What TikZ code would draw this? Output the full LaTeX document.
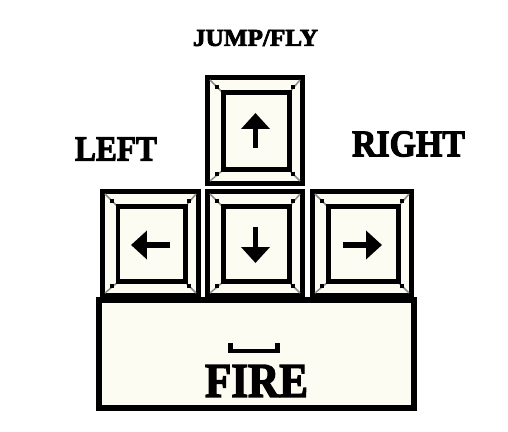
\documentclass[tikz,border=0pt]{standalone}
\usepackage{fontspec}
\setmainfont{Liberation Serif}
\newfontfamily\stencilfont[BoldFont={Liberation Serif Bold},BoldFeatures={FakeBold=3}]{Liberation Serif}
\usetikzlibrary{arrows.meta}
\definecolor{keycream}{RGB}{252,252,242}
\newcommand{\stencilword}[3]{\resizebox{#1}{#2}{\stencilfont\bfseries #3}}

\begin{document}
\begin{tikzpicture}[x=0.02cm,y=-0.02cm,line width=0.1cm,
  >={Triangle[width=0.56cm,length=0.32cm]},
  keyframe/.style={draw=black,fill=keycream,line width=0.1cm},
  innerframe/.style={draw=black,line width=0.1cm},
  bevel/.style={draw=black!45,line width=0.03cm},
  keyarrow/.style={->,line width=0.11cm},
  caption/.style={inner sep=0pt,anchor=center}]
\useasboundingbox (0,0) rectangle (508,432);
% ---------- fire bar ----------
\draw[keyframe,line width=0.12cm] (99,300) rectangle (414,408);
\draw[line width=0.09cm,line join=miter] (230.5,343) -- (230.5,351) -- (277.5,351) -- (277.5,343);
\node[caption] (fire) at (256.5,381) {\stencilword{2.06cm}{0.64cm}{FIRE}};
% ---------- keys: up, left, down, right ----------
\foreach \xa/\ya/\xb/\yb in {205/75/305/186,100/189/201/298,205/189/305/298,310/189/414/298}{
  \draw[keyframe] (\xa+2.5,\ya+2.5) rectangle (\xb-2.5,\yb-2.5);
  % bevel corners
  \draw[bevel] (\xa+5,\ya+5) -- (\xa+18,\ya+18);
  \draw[bevel] (\xb-5,\ya+5) -- (\xb-16,\ya+18);
  \draw[bevel] (\xa+5,\yb-5) -- (\xa+18,\yb-16);
  \draw[bevel] (\xb-5,\yb-5) -- (\xb-16,\yb-16);
  \fill (\xa+10,\ya+10) rectangle ++(4,4);
  \fill (\xb-10,\ya+10) rectangle ++(-4,4);
  \fill (\xa+10,\yb-10) rectangle ++(4,-4);
  \fill (\xb-10,\yb-10) rectangle ++(-4,-4);
  \draw[innerframe] (\xa+18,\ya+18) rectangle (\xb-16,\yb-16);
}
% arrows on the keys
\draw[keyarrow] (255.5,148) -- (255.5,113);
\draw[keyarrow] (170,245) -- (131,245);
\draw[keyarrow] (255.5,227) -- (255.5,263);
\draw[keyarrow] (343,245) -- (382,245);
% ---------- labels ----------
\node[caption] (jump) at (255.5,38) {\stencilword{2.5cm}{0.32cm}{JUMP/FLY}};
\node[caption] (left) at (116,149) {\stencilword{1.64cm}{0.46cm}{LEFT}};
\node[caption] (right) at (408.5,144) {\stencilword{2.26cm}{0.5cm}{RIGHT}};
\end{tikzpicture}
\end{document}
